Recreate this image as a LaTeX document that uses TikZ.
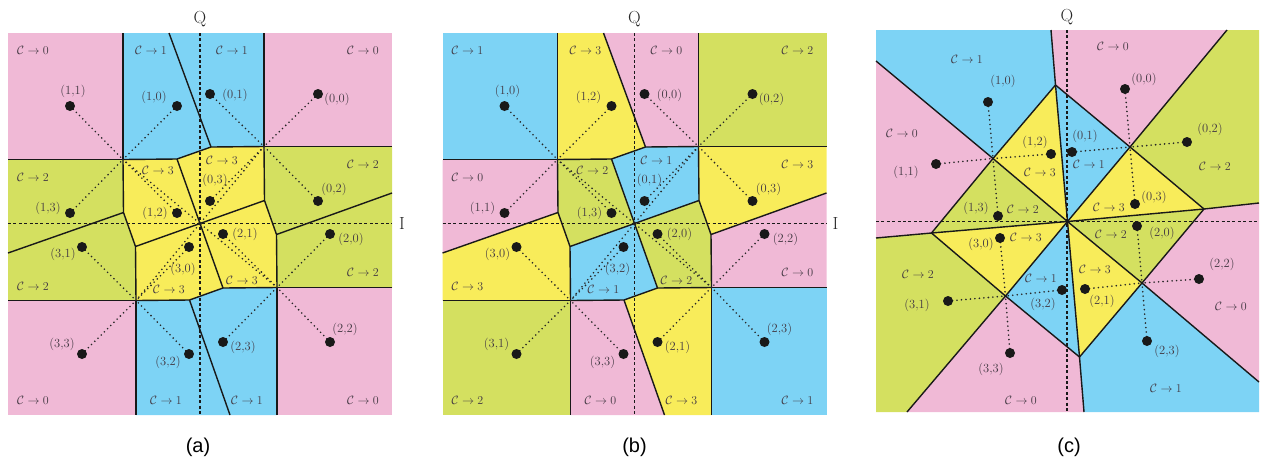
\documentclass[tikz,border=0pt]{standalone}
\usepackage{fontspec}
\newfontfamily\capfont{Liberation Sans}
\definecolor{cpink}{RGB}{240,185,214}
\definecolor{cblue}{RGB}{125,211,245}
\definecolor{cyel}{RGB}{248,236,90}
\definecolor{cgrn}{RGB}{212,224,96}
\definecolor{ink}{RGB}{66,56,66}
\tikzset{
 bnd/.style={line width=1.4pt, black!90, line join=round},
 dotl/.style={line width=1.8pt, dash pattern=on 0pt off 4.5pt, line cap=round, black!85},
 axl/.style={line width=1.2pt, dash pattern=on 3pt off 2.4pt, black!90},
 ptdot/.style={circle, fill=black!90, inner sep=0pt, minimum size=10pt},
 plab/.style={font=\fontsize{12.5}{14}\selectfont, text=ink, inner sep=0pt},
 clab/.style={font=\fontsize{12.5}{14}\selectfont, text=ink, inner sep=0pt},
 axlab/.style={font=\fontsize{17.5}{20}\selectfont, text=black!85, inner sep=0pt},
 caplab/.style={font=\capfont\fontsize{20}{23}\selectfont, inner sep=0pt},
}
\newcommand\abgeom[1]{%
 \coordinate (#1O) at (200,223.5);
 \coordinate (#1A1) at (123,159.5);
 \coordinate (#1A2) at (264,146.5);
 \coordinate (#1A3) at (277,287.5);
 \coordinate (#1A4) at (136,300.5);
 \coordinate (#1U1) at (177,159);
 \coordinate (#1U2) at (211,147);
 \coordinate (#1R1) at (264.5,200.5);
 \coordinate (#1R2) at (276.5,234.5);
 \coordinate (#1D1) at (223,288);
 \coordinate (#1D2) at (189.5,300);
 \coordinate (#1L1) at (135.5,246.5);
 \coordinate (#1L2) at (123.5,212.5);
 \coordinate (#1c1) at (8,33);
 \coordinate (#1c2) at (392,33);
 \coordinate (#1c3) at (392,415);
 \coordinate (#1c4) at (8,415);
 \coordinate (#1e1) at (123,33);
 \coordinate (#1e2) at (169,33);
 \coordinate (#1e3) at (264,33);
 \coordinate (#1e4) at (392,146.5);
 \coordinate (#1e5) at (392,193);
 \coordinate (#1e6) at (392,287.5);
 \coordinate (#1e7) at (277,415);
 \coordinate (#1e8) at (230,415);
 \coordinate (#1e9) at (136,415);
 \coordinate (#1e10) at (8,300.5);
 \coordinate (#1e11) at (8,253);
 \coordinate (#1e12) at (8,159.5);
 \coordinate (#1ax1) at (200,33);
 \coordinate (#1ax2) at (200,415);
 \coordinate (#1ax3) at (8,223.5);
 \coordinate (#1ax4) at (392,223.5);
 \foreach \k/\px/\py/\tx/\ty in {1/70/106/73/91,2/177/106/154/97,3/210/94/235/95,4/318/94/337/99,
   5/70/213/48/208,6/177/213/155/213,7/210/201/215/180,8/318/201/334/189,
   9/223/234/245/234,10/330/234/351/239,11/82/247/63/254,12/189/247/183/269,
   13/82/354/62/344,14/189/354/168/362,15/223/342/243/347,16/330/342/345/329}
   {\coordinate (#1s\k) at (\px,\py); \coordinate (#1t\k) at (\tx,\ty);}
 \foreach \k/\px/\py in {1/33/50,2/151/50,3/232/50,4/363/50,5/33/177,6/158/170,7/222/160,8/363/164,
   9/33/286,10/169/289,11/242/280,12/363/272,13/33/400,14/166/400,15/247/400,16/363/400}
   {\coordinate (#1r\k) at (\px,\py);}
}
\newcommand\abfill[2]{%
 \foreach \c [count=\k] in {#2}{%
  \ifcase\k\or
  \fill[\c] (#1c1)--(#1e1)--(#1A1)--(#1e12)--cycle;\or
  \fill[\c] (#1e1)--(#1e2)--(#1U2)--(#1U1)--(#1A1)--cycle;\or
  \fill[\c] (#1e2)--(#1e3)--(#1A2)--(#1U2)--cycle;\or
  \fill[\c] (#1e3)--(#1c2)--(#1e4)--(#1A2)--cycle;\or
  \fill[\c] (#1e12)--(#1A1)--(#1L2)--(#1e11)--cycle;\or
  \fill[\c] (#1A1)--(#1U1)--(#1O)--(#1L1)--(#1L2)--cycle;\or
  \fill[\c] (#1U1)--(#1U2)--(#1A2)--(#1R1)--(#1O)--cycle;\or
  \fill[\c] (#1A2)--(#1e4)--(#1e5)--(#1R2)--(#1R1)--cycle;\or
  \fill[\c] (#1e11)--(#1L2)--(#1L1)--(#1A4)--(#1e10)--cycle;\or
  \fill[\c] (#1L1)--(#1O)--(#1D1)--(#1D2)--(#1A4)--cycle;\or
  \fill[\c] (#1O)--(#1R1)--(#1R2)--(#1A3)--(#1D1)--cycle;\or
  \fill[\c] (#1e5)--(#1e6)--(#1A3)--(#1R2)--cycle;\or
  \fill[\c] (#1e10)--(#1A4)--(#1e9)--(#1c4)--cycle;\or
  \fill[\c] (#1A4)--(#1D2)--(#1e8)--(#1e9)--cycle;\or
  \fill[\c] (#1D2)--(#1D1)--(#1A3)--(#1e7)--(#1e8)--cycle;\or
  \fill[\c] (#1A3)--(#1e6)--(#1c3)--(#1e7)--cycle;\fi}%
}
\newcommand\abedges[1]{%
 \draw[axl] (#1ax1)--(#1ax2);
 \draw[axl] (#1ax3)--(#1ax4);
 \draw[bnd] (#1e1)--(#1A1)--(#1e12);
 \draw[bnd] (#1e3)--(#1A2)--(#1e4);
 \draw[bnd] (#1e6)--(#1A3)--(#1e7);
 \draw[bnd] (#1e10)--(#1A4)--(#1e9);
 \draw[bnd] (#1e2)--(#1U2)--(#1A2);
 \draw[bnd] (#1A1)--(#1U1)--(#1U2);
 \draw[bnd] (#1U1)--(#1O)--(#1R1);
 \draw[bnd] (#1L1)--(#1O)--(#1D1);
 \draw[bnd] (#1A2)--(#1R1)--(#1R2)--(#1A3);
 \draw[bnd] (#1R2)--(#1e5);
 \draw[bnd] (#1A3)--(#1D1)--(#1D2)--(#1A4);
 \draw[bnd] (#1D2)--(#1e8);
 \draw[bnd] (#1A4)--(#1L1)--(#1L2)--(#1A1);
 \draw[bnd] (#1L2)--(#1e11);
 \foreach \k/\v in {1/A1,2/A1,3/A2,4/A2,5/A1,6/A1,7/A2,8/A2,9/A3,10/A3,11/A4,12/A4,13/A4,14/A4,15/A3,16/A3}
   {\draw[dotl] (#1s\k)--(#1\v);}
 \foreach \v in {A1,A2,A3,A4}{\draw[dotl] (#1\v)--(#1O);}
}
\newcommand\abtext[3]{%
 \foreach \p/\q [count=\k] in {#2}{%
   \node[ptdot] (#1d\k) at (#1s\k) {};
   \node[plab] (#1l\k) at (#1t\k) {(\p,\q)};}
 \foreach \v [count=\k] in {#3}{%
   \node[clab] (#1q\k) at (#1r\k) {$\mathcal{C}\rightarrow \v$};}
}
\begin{document}
\begin{tikzpicture}[x=1pt,y=-1pt]
\useasboundingbox (0,0) rectangle (1266,459);
% ---------- panel (a)
\begin{scope}
 \abgeom{a}
 \abfill{a}{cpink,cblue,cblue,cpink,cgrn,cyel,cyel,cgrn,cgrn,cyel,cyel,cgrn,cpink,cblue,cblue,cpink}
 \abedges{a}
 \abtext{a}{1/1,1/0,0/1,0/0,1/3,1/2,0/3,0/2,2/1,2/0,3/1,3/0,3/3,3/2,2/3,2/2}{0,1,1,0,2,3,3,2,2,3,3,2,0,1,1,0}
 \node[axlab] (aQ) at (200,19) {Q};
 \node[axlab] (aI) at (402,223.5) {I};
 \node[caplab] (capa) at (198,447) {(a)};
\end{scope}
% ---------- panel (b)
\begin{scope}[xshift=434.5pt]
 \abgeom{b}
 \abfill{b}{cblue,cyel,cpink,cgrn,cpink,cgrn,cblue,cyel,cyel,cblue,cgrn,cpink,cgrn,cpink,cyel,cblue}
 \abedges{b}
 \abtext{b}{1/0,1/2,0/0,0/2,1/1,1/3,0/1,0/3,2/0,2/2,3/0,3/2,3/1,3/3,2/1,2/3}{1,3,0,2,0,2,1,3,3,1,2,0,2,0,3,1}
 \node[axlab] (bQ) at (200,19) {Q};
 \node[axlab] (bI) at (401,223.5) {I};
 \node[caplab] (capb) at (200,447) {(b)};
\end{scope}
% ---------- panel (c)
\coordinate (cO) at (1067.5,221.5);
\coordinate (cPt) at (1055.5,85);
\coordinate (cN1) at (993,158.5);
\coordinate (cN2) at (1130,147);
\coordinate (cPr) at (1204,209);
\coordinate (cPl) at (931.5,233);
\coordinate (cN4) at (1005.5,296);
\coordinate (cN3) at (1142,283);
\coordinate (cPb) at (1079.5,357);
\coordinate (cc1) at (876,30);
\coordinate (cc2) at (1259,30);
\coordinate (cc3) at (1259,412);
\coordinate (cc4) at (876,412);
\coordinate (cE1) at (1051,30);
\coordinate (cE2) at (876,61);
\coordinate (cE3) at (1227,30);
\coordinate (cE4) at (1259,203);
\coordinate (cE5) at (1259,382);
\coordinate (cE6) at (1084,412);
\coordinate (cE7) at (907,412);
\coordinate (cE8) at (876,238);
\coordinate (cax1) at (1067,30);
\coordinate (cax2) at (1067,412);
\coordinate (cax3) at (876,221.5);
\coordinate (cax4) at (1259,221.5);
\fill[cyel] (cO)--(cPt)--(cN1)--cycle;
\fill[cblue] (cO)--(cPt)--(cN2)--cycle;
\fill[cyel] (cO)--(cN2)--(cPr)--cycle;
\fill[cgrn] (cO)--(cPr)--(cN3)--cycle;
\fill[cyel] (cO)--(cN3)--(cPb)--cycle;
\fill[cblue] (cO)--(cPb)--(cN4)--cycle;
\fill[cyel] (cO)--(cN4)--(cPl)--cycle;
\fill[cgrn] (cO)--(cPl)--(cN1)--cycle;
\fill[cblue] (cc1)--(cE1)--(cPt)--(cN1)--(cE2)--cycle;
\fill[cpink] (cE1)--(cE3)--(cN2)--(cPt)--cycle;
\fill[cgrn] (cE3)--(cc2)--(cE4)--(cPr)--(cN2)--cycle;
\fill[cpink] (cE4)--(cE5)--(cN3)--(cPr)--cycle;
\fill[cblue] (cE5)--(cc3)--(cE6)--(cPb)--(cN3)--cycle;
\fill[cpink] (cE6)--(cE7)--(cN4)--(cPb)--cycle;
\fill[cgrn] (cE7)--(cc4)--(cE8)--(cPl)--(cN4)--cycle;
\fill[cpink] (cE8)--(cE2)--(cN1)--(cPl)--cycle;
\draw[axl] (cax1)--(cax2);
\draw[axl] (cax3)--(cax4);
\draw[bnd] (cE2)--(cN1)--(cPt)--(cE1);
\draw[bnd] (cPt)--(cN2)--(cE3);
\draw[bnd] (cN2)--(cPr)--(cE4);
\draw[bnd] (cPr)--(cN3)--(cE5);
\draw[bnd] (cN3)--(cPb)--(cE6);
\draw[bnd] (cPb)--(cN4)--(cE7);
\draw[bnd] (cN4)--(cPl)--(cE8);
\draw[bnd] (cPl)--(cN1);
\foreach \v in {cPt,cN1,cN2,cPr,cN3,cPb,cN4,cPl}{\draw[bnd] (cO)--(\v);}
\foreach \p/\q/\px/\py/\tx/\ty/\v in {1/0/988/102/1003/81/cN1, 0/0/1125/89/1144/79/cN2,
  1/1/936/164/906/172/cN1, 1/2/1051/154/1035/142/cN1, 0/1/1072/152/1085/136/cN2,
  0/2/1187/142/1210/129/cN2, 1/3/998/216/976/208/cN1, 0/3/1135/204/1154/197/cN2,
  2/0/1137/226/1162/233/cN3, 3/0/1000/238/981/244/cN4, 3/1/948/301/917/305/cN4,
  3/2/1062/290/1043/304/cN4, 2/1/1085/289/1102/301/cN3, 2/2/1199/279/1222/264/cN3,
  3/3/1010/353/991/369/cN4, 2/3/1147/341/1167/351/cN3}{%
  \coordinate (cs\p\q) at (\px,\py);
  \draw[dotl] (cs\p\q)--(\v);
  \node[ptdot] (cd\p\q) at (cs\p\q) {};
  \node[plab] (cl\p\q) at (\tx,\ty) {(\p,\q)};}
\foreach \v/\px/\py [count=\k] in {1/967/59, 0/1113/46, 0/902/133, 3/1040/172, 1/1089/164, 2/1215/166,
  2/1023/209, 3/1109/207, 3/1026/237, 2/1111/234, 2/918/274, 1/1041/278, 3/1095/269,
  0/1231/306, 1/1166/388, 0/1021/400}{%
  \node[clab] (cq\k) at (\px,\py) {$\mathcal{C}\rightarrow \v$};}
\node[axlab] (cQ) at (1067,17) {Q};
\node[caplab] (capc) at (1069,447) {(c)};
\end{tikzpicture}
\end{document}
